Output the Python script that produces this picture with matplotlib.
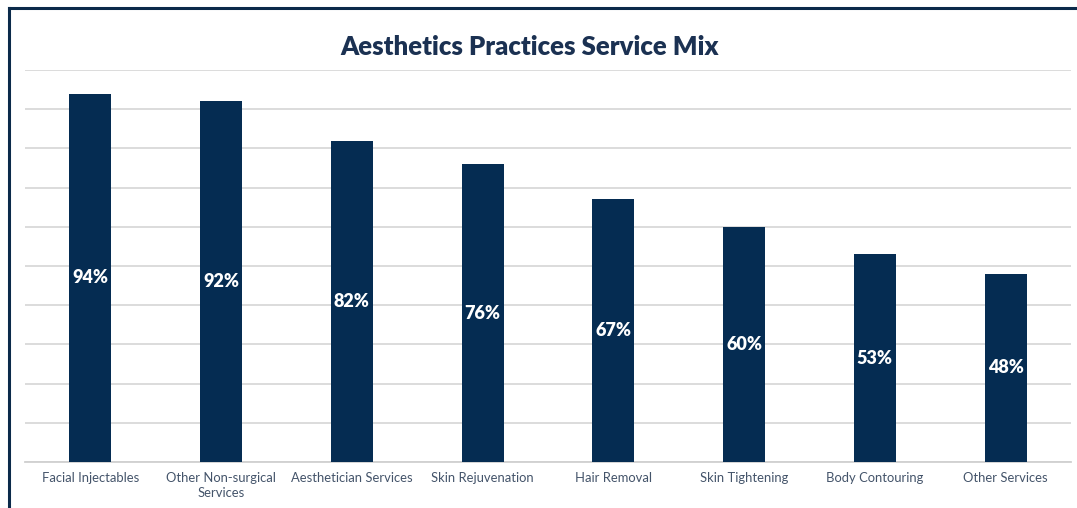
import numpy as np
import matplotlib.pyplot as plt
from matplotlib.lines import Line2D

# Dane
categories = ["Facial Injectables", "Other Non-surgical\nServices", "Aesthetician Services",
              "Skin Rejuvenation", "Hair Removal", "Skin Tightening",
              "Body Contouring", "Other Services"]
values = [94, 92, 82, 76, 67, 60, 53, 48]

navy = "#052c52"
plt.rcParams['font.family'] = ['Lato', 'DejaVu Sans']

fig = plt.figure(figsize=(10.77, 5.08), dpi=100)
ax = fig.add_axes([25/1077, 1 - 462/508, (1071 - 25)/1077, (462 - 70)/508])

x = np.arange(len(categories))
bars = ax.bar(x, values, width=0.32, color=navy, zorder=3)

for b, v in zip(bars, values):
    ax.text(b.get_x() + b.get_width()/2, v/2, f"{v}%", ha="center", va="center",
            color="white", fontsize=13, fontweight="heavy", zorder=4)

ax.set_xlim(-0.5, len(categories) - 0.5)
ax.set_ylim(0, 100)
ax.set_yticks(np.arange(0, 101, 10))
ax.set_yticklabels([])
ax.tick_params(axis="y", length=0)
ax.grid(axis="y", color="#d9d9d9", linewidth=1.3, zorder=0)
ax.set_xticks(x)
ax.set_xticklabels(categories, fontsize=9.4, color="#44546a", linespacing=1.3)
ax.tick_params(axis="x", length=0, pad=7)
for s in ["top", "right", "left"]:
    ax.spines[s].set_visible(False)
ax.spines["bottom"].set_color("#d0d0d0")
ax.spines["bottom"].set_linewidth(1.3)

fig.text(530/1077, 1 - 47/508, "Aesthetics Practices Service Mix", ha="center", va="center",
         fontsize=18.5, fontweight="heavy", color="#1b3152")

# ramka
fig.add_artist(Line2D([8.5/1077, 8.5/1077], [0, 1 - 7.5/508], color="#0b2a4a", linewidth=2.2,
                      transform=fig.transFigure))
fig.add_artist(Line2D([8.5/1077, 1], [1 - 7.5/508, 1 - 7.5/508], color="#0b2a4a", linewidth=2.2,
                      transform=fig.transFigure))

fig.savefig("out.png", dpi=100)
